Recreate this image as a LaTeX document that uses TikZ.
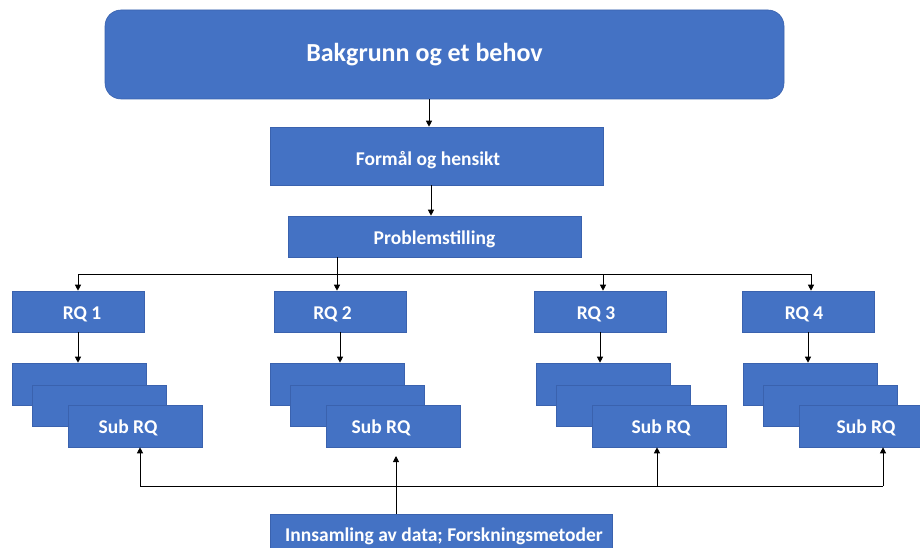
\documentclass[tikz,border=0pt]{standalone}
\usepackage{fontspec}
\setmainfont{Carlito}
\usetikzlibrary{arrows.meta}
\definecolor{boxblue}{HTML}{4472C4}
\definecolor{boxedge}{HTML}{3A62AE}
\tikzset{
  box/.style={fill=boxblue, draw=boxedge, line width=0.6pt, inner sep=0pt,
    text height=15.5pt, text depth=0pt,
    text=white, font=\bfseries\fontsize{19.5}{22}\selectfont},
  link/.style={draw=black, line width=0.9pt},
  arr/.style={link, -{Triangle[length=6pt,width=6pt]}}
}
\begin{document}
\begin{tikzpicture}[x=1pt,y=-1pt]
\useasboundingbox (0,0) rectangle (920,548);
\clip (0,0) rectangle (920,548);

% main chain
\node[box, rounded corners=16pt, minimum width=679pt, minimum height=89pt,
  text height=15pt, font=\bfseries\fontsize{26}{30}\selectfont] (bg) at (444.5,54.5)
  {\hspace*{-40pt}Bakgrunn og et behov};
\node[box, minimum width=333pt, minimum height=58pt, text height=20pt] (fo) at (436.5,156)
  {\hspace*{-17pt}Formål og hensikt};
\node[box, minimum width=293pt, minimum height=41pt] (pr) at (434.5,236.5)
  {Problemstilling};

% research questions
\node[box, minimum width=132pt, minimum height=41pt] (rq1) at (78,311.5) {\hspace*{8pt}RQ 1};
\node[box, minimum width=132pt, minimum height=41pt] (rq2) at (340,311.5) {\hspace*{-15pt}RQ 2};
\node[box, minimum width=132pt, minimum height=41pt] (rq3) at (600,311.5) {\hspace*{-8pt}RQ 3};
\node[box, minimum width=132pt, minimum height=41pt] (rq4) at (808,311.5) {\hspace*{-8pt}RQ 4};

% stacks of sub-questions
\foreach \i/\s/\k in {1/12/-14, 2/270/-24, 3/536/4, 4/743/0} {
  \node[box, minimum width=134pt, minimum height=42pt] (s\i a) at (\s+67,384) {};
  \node[box, minimum width=134pt, minimum height=41pt] (s\i b) at (\s+87,405.5) {};
  \node[box, minimum width=134pt, minimum height=42pt] (s\i c) at (\s+123,426)
    {\hspace*{\k pt}Sub RQ};
}

% data collection
\node[box, minimum width=342pt, minimum height=40pt] (in) at (441,534)
  {\hspace*{6pt}Innsamling av data; Forskningsmetoder};

% reference columns for the connectors
\coordinate (c429) at (429,0);
\coordinate (c431) at (431,0);
\coordinate (c337) at (337,0);
\coordinate (c603) at (603,0);
\coordinate (c811) at (811,0);
\coordinate (c78) at (78,0);
\coordinate (c140) at (140,0);
\coordinate (c396) at (396,0);
\coordinate (c657) at (657,0);
\coordinate (c883) at (883,0);
\coordinate (bus) at (0,274);
\coordinate (low) at (0,486);
\coordinate (tip) at (0,456);

\draw[arr] (bg.south -| c429) -- (fo.north -| c429);
\draw[arr] (fo.south -| c431) -- (pr.north -| c431);

% fan-out to the research questions
\draw[link] (pr.south -| c337) -- (bus -| c337);
\draw[link] (bus -| c78) -- (bus -| c811);
\draw[arr] (bus -| c78) -- (rq1.north -| c78);
\draw[arr] (bus -| c337) -- (rq2.north -| c337);
\draw[arr] (bus -| c603) -- (rq3.north -| c603);
\draw[arr] (bus -| c811) -- (rq4.north -| c811);

% research question to its sub-questions
\foreach \i in {1,2,3,4} {
  \draw[arr] (rq\i.south) -- (rq\i.south |- s\i a.north);
}

% data collection feeding the sub-questions
\draw[link] (low -| c140) -- (low -| c883);
\draw[arr] (low -| c140) -- (s1c.south -| c140);
\draw[arr] (low -| c657) -- (s3c.south -| c657);
\draw[arr] (low -| c883) -- (s4c.south -| c883);
\draw[arr] (in.north -| c396) -- (tip -| c396);
\end{tikzpicture}
\end{document}
